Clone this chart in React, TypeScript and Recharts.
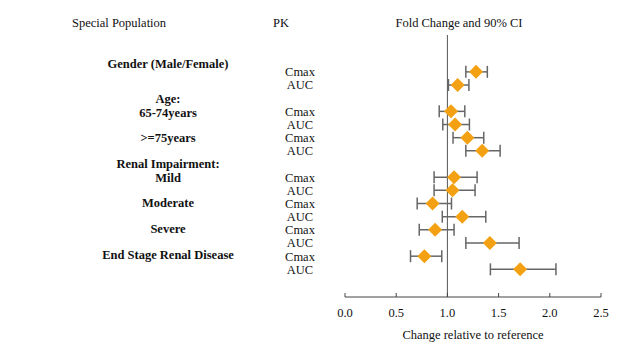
import { ScatterChart, Scatter, XAxis, YAxis, ErrorBar, ReferenceLine } from "recharts";

// PK rows (top to bottom)
const pkLabels = ["Cmax", "AUC", "Cmax", "AUC", "Cmax", "AUC", "Cmax", "AUC", "Cmax", "AUC", "Cmax", "AUC", "Cmax", "AUC"];
const rowSlots = [0, 1, 3, 4, 5, 6, 8, 9, 10, 11, 12, 13, 14, 15];
const foldChange = [1.28, 1.1, 1.035, 1.075, 1.195, 1.34, 1.065, 1.05, 0.855, 1.145, 0.88, 1.415, 0.775, 1.71];
const ciLower = [1.18, 1.01, 0.92, 0.955, 1.055, 1.18, 0.87, 0.87, 0.705, 0.95, 0.725, 1.18, 0.64, 1.42];
const ciUpper = [1.39, 1.21, 1.17, 1.215, 1.355, 1.515, 1.29, 1.27, 1.04, 1.375, 1.065, 1.7, 0.945, 2.06];

// special population labels
const groupLabels = ["Gender (Male/Female)", "Age:", "65-74years", ">=75years", "Renal Impairment:", "Mild", "Moderate", "Severe", "End Stage Renal Disease"];
const groupSlots = [-0.65, 2.05, 3.08, 5, 6.95, 8, 9.9, 11.9, 13.85];

const xTicks = [0, 0.5, 1, 1.5, 2, 2.5];

const FONT = "'Liberation Serif', 'Times New Roman', serif";
const FS = 12.5;

const data = foldChange.map((v, i) => ({
  x: v,
  y: rowSlots[i],
  err: [v - ciLower[i], ciUpper[i] - v],
}));

const yTicks = Array.from(new Set([...rowSlots, ...groupSlots])).sort((a, b) => a - b);

const RowTick = (props: any) => {
  const { y, payload } = props;
  const v = payload.value;
  const gi = groupSlots.indexOf(v);
  const pi = rowSlots.indexOf(v);
  return (
    <g fontFamily={FONT} fontSize={FS} fill="#111">
      {gi >= 0 && (
        <text x={168} y={y} dy="0.35em" textAnchor="middle" fontWeight="bold">
          {groupLabels[gi]}
        </text>
      )}
      {pi >= 0 && (
        <text x={300} y={y} dy="0.35em" textAnchor="middle">
          {pkLabels[pi]}
        </text>
      )}
    </g>
  );
};

const Diamond = (props: any) => {
  const { cx, cy } = props;
  const r = 7;
  return (
    <polygon
      points={`${cx},${cy - r} ${cx + r},${cy} ${cx},${cy + r} ${cx - r},${cy}`}
      fill="#F3A112"
    />
  );
};

const headerStyle: React.CSSProperties = {
  position: "absolute",
  top: 15,
  fontFamily: FONT,
  fontSize: FS,
  color: "#111",
  whiteSpace: "nowrap",
  lineHeight: "16px",
};

export default function App() {
  return (
    <div style={{ position: "absolute", left: 0, top: 0, width: 619, height: 349, background: "#fff" }}>
      <span style={{ ...headerStyle, left: 72 }}>Special Population</span>
      <span style={{ ...headerStyle, left: 281, transform: "translateX(-50%)" }}>PK</span>
      <span style={{ ...headerStyle, left: 459, transform: "translateX(-50%)" }}>Fold Change and 90% CI</span>
      <ScatterChart width={619} height={349} margin={{ top: 35, right: 18, bottom: 7, left: 0 }}>
        <XAxis
          type="number"
          dataKey="x"
          domain={[0, 2.5]}
          ticks={xTicks}
          tickFormatter={(v: number) => v.toFixed(1)}
          stroke="#444"
          tickSize={-4}
          tickMargin={15}
          height={45}
          tick={{ fontFamily: FONT, fontSize: FS, fill: "#111" }}
          label={{ value: "Change relative to reference", position: "insideBottom", offset: 3, fontFamily: FONT, fontSize: FS, fill: "#111" }}
        />
        <YAxis
          type="number"
          dataKey="y"
          domain={[-2.8, 17.1]}
          reversed
          ticks={yTicks}
          interval={0}
          axisLine={false}
          tickLine={false}
          width={345}
          tick={<RowTick />}
          allowDataOverflow
        />
        <ReferenceLine x={1} stroke="#555" strokeWidth={1} />
        <Scatter data={data} shape={<Diamond />} isAnimationActive={false}>
          <ErrorBar dataKey="err" direction="x" width={6} stroke="#666" strokeWidth={1.5} />
        </Scatter>
      </ScatterChart>
    </div>
  );
}
